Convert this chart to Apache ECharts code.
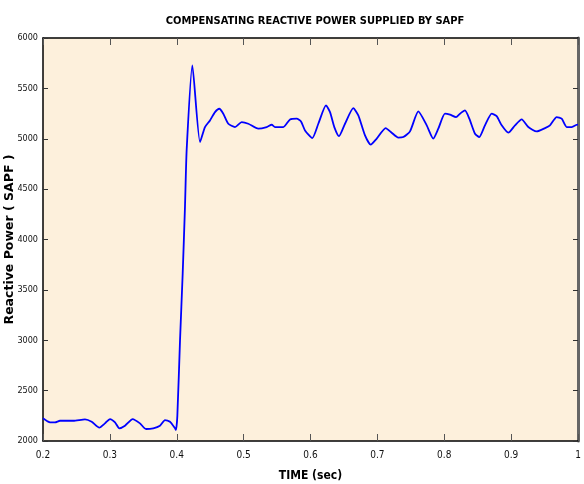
<!DOCTYPE html>
<html>
<head>
<meta charset="utf-8">
<script src="https://cdn.jsdelivr.net/npm/echarts@6/dist/echarts.min.js"></script>
<style>html,body{margin:0;padding:0;background:#fff;}#c{width:584px;height:484px;}</style>
</head>
<body>
<div id="c"></div>
<script>
var titleText = 'COMPENSATING REACTIVE POWER SUPPLIED BY SAPF';
var xName = 'TIME (sec)';
var yName = 'Reactive Power ( SAPF )';
var xTicks = [0.2, 0.3, 0.4, 0.5, 0.6, 0.7, 0.8, 0.9, 1];
var yTicks = [2000, 2500, 3000, 3500, 4000, 4500, 5000, 5500, 6000];

var time = [
0.2000,0.2105,0.2179,0.2254,0.2453,0.2628,0.2728,0.2842,0.2927,0.3002,
0.3077,0.3141,0.3226,0.3341,0.3450,0.3540,0.3649,0.3749,0.3824,0.3899,
0.3974,0.3989,0.4009,0.4049,0.4089,0.4123,0.4149,0.4233,0.4348,0.4422,
0.4497,0.4572,0.4636,0.4696,0.4771,0.4871,0.4971,0.5070,0.5219,0.5345,
0.5420,0.5469,0.5593,0.5694,0.5794,0.5858,0.5918,0.6027,0.6117,0.6232,
0.6292,0.6356,0.6426,0.6516,0.6640,0.6715,0.6815,0.6900,0.6990,0.7124,
0.7214,0.7313,0.7388,0.7488,0.7612,0.7738,0.7836,0.7911,0.8011,0.8086,
0.8176,0.8236,0.8310,0.8375,0.8460,0.8524,0.8609,0.8710,0.8784,0.8859,
0.8958,0.9058,0.9158,0.9257,0.9382,0.9507,0.9581,0.9682,0.9756,0.9831,
0.9906,0.9981,1.0000
];
var power = [
2225,2185,2185,2201,2201,2215,2191,2132,2175,2218,
2185,2126,2152,2218,2175,2119,2126,2152,2208,2191,
2126,2110,2250,3001,3665,4323,4900,5727,4967,5116,
5182,5264,5298,5249,5149,5116,5165,5149,5100,5116,
5139,5116,5116,5192,5199,5172,5083,5007,5149,5331,
5264,5116,5026,5149,5304,5232,5033,4941,5001,5106,
5060,5011,5017,5073,5271,5133,5001,5100,5249,5239,
5215,5249,5281,5199,5050,5017,5133,5249,5225,5133,
5060,5133,5192,5116,5073,5106,5133,5215,5199,5116,
5116,5139,5140
];

var seriesData = time.map(function(t,i){return [t, power[i]];});
var narrow = "'DejaVu Sans Condensed','Liberation Sans Narrow',sans-serif";

var chart = echarts.init(document.getElementById('c'), null, {renderer:'canvas'});
chart.setOption({
  animation:false,
  backgroundColor:'#ffffff',
  title:{
    text:titleText, left:310, top:11, textAlign:'center',
    textStyle:{fontFamily:narrow, fontWeight:'bold', fontSize:11, color:'#000'}
  },
  grid:{left:43, right:6, top:38, bottom:43, containLabel:false, outerBoundsMode:'none',
        show:true, backgroundColor:'#fdf0dc', borderWidth:0},
  xAxis:[{
    type:'value', min:xTicks[0], max:xTicks[xTicks.length-1], interval:0.1,
    name:xName, nameLocation:'middle', nameGap:29, nameMoveOverlap:false,
    nameTextStyle:{fontFamily:narrow, fontWeight:'bold', fontSize:12, color:'#000'},
    axisLine:{show:true, lineStyle:{color:'#000', width:1.5}},
    axisTick:{show:true, inside:true, length:7, lineStyle:{color:'#555'}},
    axisLabel:{fontFamily:narrow, fontSize:10, color:'#111', margin:9,
      formatter:function(v){ return Math.abs(v-1)<1e-9 ? '1' : (Math.round(v*10)/10).toFixed(1); }},
    splitLine:{show:false}
  },{
    type:'value', position:'top', min:xTicks[0], max:xTicks[xTicks.length-1], interval:0.1,
    axisLine:{show:true, lineStyle:{color:'#000', width:1.5}},
    axisTick:{show:true, inside:true, length:7, lineStyle:{color:'#555'}},
    axisLabel:{show:false}, splitLine:{show:false}
  }],
  yAxis:[{
    type:'value', min:yTicks[0], max:yTicks[yTicks.length-1], interval:500,
    name:yName, nameLocation:'middle', nameGap:27, nameRotate:90, nameMoveOverlap:false,
    nameTextStyle:{fontFamily:"'DejaVu Sans',sans-serif", fontWeight:'bold', fontSize:12.5, color:'#000'},
    axisLine:{show:true, lineStyle:{color:'#000', width:1.5}},
    axisTick:{show:true, inside:true, length:5, lineStyle:{color:'#333'}},
    axisLabel:{fontFamily:narrow, fontSize:9, color:'#111', margin:5,
      formatter:function(v){ return String(v); }},
    splitLine:{show:false}
  },{
    type:'value', position:'right', min:yTicks[0], max:yTicks[yTicks.length-1], interval:500,
    axisLine:{show:true, lineStyle:{color:'#666', width:3}},
    axisTick:{show:true, inside:true, length:5, lineStyle:{color:'#333'}},
    axisLabel:{show:false}, splitLine:{show:false}
  }],
  series:[{
    type:'line', data:seriesData, xAxisIndex:0, yAxisIndex:0,
    showSymbol:false, smooth:0.2,
    lineStyle:{color:'#0000ff', width:1.8}
  }]
});
</script>
</body>
</html>
